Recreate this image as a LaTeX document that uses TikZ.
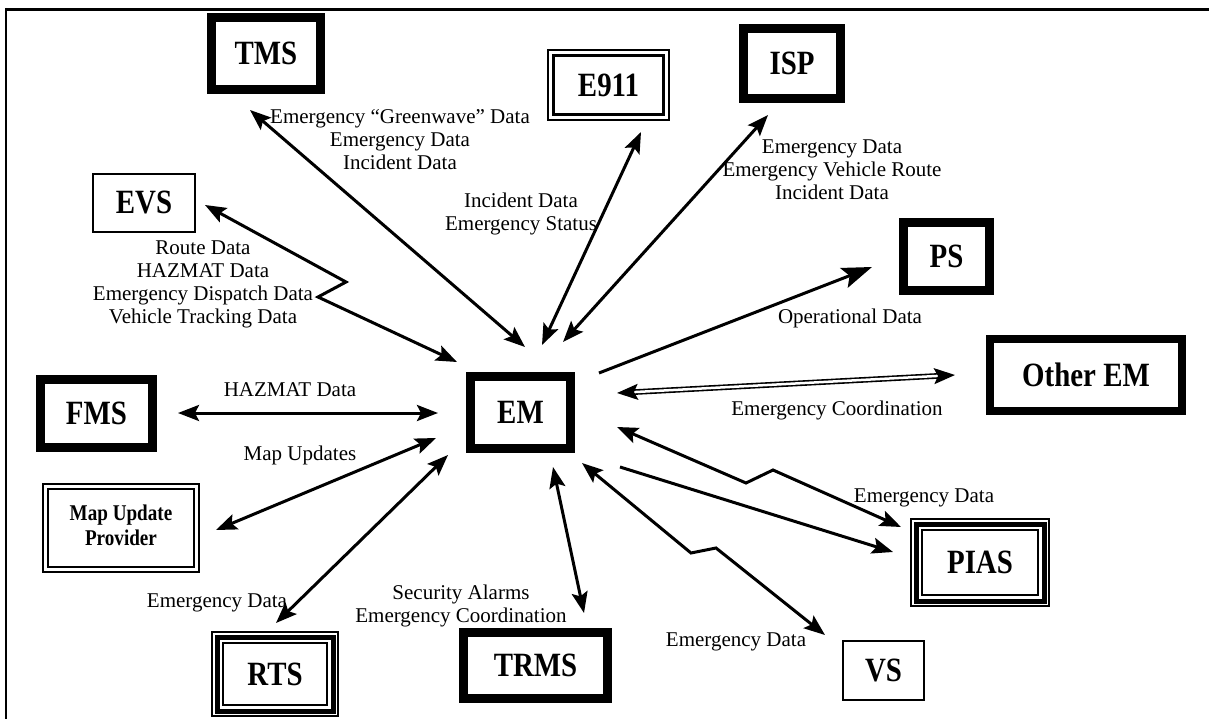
\documentclass[tikz,border=0pt]{standalone}
\usepackage{fontspec}
\setmainfont{Liberation Serif}
\usetikzlibrary{arrows.meta}

% frame ring drawn inside a node's outline: node, inset, line width
\newcommand\ringat[3]{%
  \draw[line width=#3pt]
    ([shift={({#2+#3/2},{#2+#3/2})}]#1.north west) rectangle
    ([shift={({-#2-#3/2},{-#2-#3/2})}]#1.south east);}

% condensed bold caption
\newcommand\narrow[1]{\scalebox{0.85}[1]{#1}}

% entity node from its outer corners: name, x1, y1, x2, y2, text
\newcommand\entity[6]{%
  \node[ent, minimum width={(#4-#2)*1pt}, minimum height={(#5-#3)*1pt}]
    (#1) at ({(#2+#4)/2},{(#3+#5)/2}) {\narrow{#6}};}

\tikzset{
  ent/.style={inner sep=0pt, outer sep=0pt, font=\fontsize{34}{36}\selectfont\bfseries},
  lbl/.style={inner sep=0pt, align=center, font=\fontsize{21}{23}\selectfont},
  flow/.style={line width=3pt},
}

\begin{document}
\begin{tikzpicture}[x=1pt, y=-1pt,
  >={Stealth[length=21pt, width=16pt, inset=4pt]}]
\useasboundingbox (0,0) rectangle (1209,719);

% page rules
\coordinate (ruleTL) at (6,9.5);
\coordinate (ruleTR) at (1209,9.5);
\coordinate (ruleBL) at (6,719);
\draw[line width=3pt] (ruleTL) -- (ruleTR);
\draw[line width=2pt] ([yshift=1.5pt]ruleTL) -- (ruleBL);

% entities
\entity{TMS}{207}{13}{325}{94}{TMS}
\entity{E911}{547}{49}{670}{121}{E911}
\entity{ISP}{739}{24}{845}{103}{ISP}
\entity{EVS}{92}{173}{196}{233}{EVS}
\entity{PS}{899}{218}{994}{295}{PS}
\entity{OEM}{986}{335}{1186}{415}{Other EM}
\entity{EM}{466}{372}{575}{453}{EM}
\entity{FMS}{36}{375}{157}{452}{FMS}
\entity{MUP}{42}{483}{200}{573}{\fontsize{22.5}{25}\selectfont\begin{tabular}{@{}c@{}}Map Update\\Provider\end{tabular}}
\entity{RTS}{211}{631}{339}{717}{RTS}
\entity{TRMS}{459}{628}{612}{703}{TRMS}
\entity{PIAS}{910}{518}{1050}{607}{PIAS}
\entity{VS}{842}{640}{925}{701}{VS}

% heavy single frames
\foreach \n in {TMS,ISP,PS,EM,FMS,TRMS} {\ringat{\n}{0}{9}}
\ringat{OEM}{0}{8}
% light single frames
\foreach \n in {EVS,VS} {\ringat{\n}{0}{2}}
% double frames
\ringat{E911}{0}{2}\ringat{E911}{5}{3}
\ringat{MUP}{0}{2}\ringat{MUP}{5}{2}
% triple frames
\foreach \n in {RTS,PIAS} {\ringat{\n}{0}{2}\ringat{\n}{3.5}{5}\ringat{\n}{11}{2}}

% connector ends
\coordinate (tmsEnd) at (250,110);   \coordinate (emTms) at (525,347);
\coordinate (e911End) at (641,132);  \coordinate (emE911) at (542,345);
\coordinate (ispEnd) at (768,115);   \coordinate (emIsp) at (563,342);
\coordinate (evsEnd) at (205,205);   \coordinate (emEvs) at (457,362);
\coordinate (evsZa) at (346,282);    \coordinate (evsZb) at (318,297);
\coordinate (fmsEnd) at (178,413);   \coordinate (emFms) at (438,413);
\coordinate (mupEnd) at (216,530);   \coordinate (emMup) at (436,438);
\coordinate (rtsEnd) at (276,623);   \coordinate (emRts) at (448,455);
\coordinate (trmsEnd) at (584,613);  \coordinate (emTrms) at (553,467);
\coordinate (vsEnd) at (825,635);    \coordinate (emVs) at (582,463);
\coordinate (vsZa) at (716,548);     \coordinate (vsZb) at (691,553);
\coordinate (piasEndA) at (901,527); \coordinate (emPiasA) at (617,427);
\coordinate (piasZa) at (773,470);   \coordinate (piasZb) at (746,483);
\coordinate (piasEndB) at (893,552); \coordinate (emPiasB) at (620,467);
\coordinate (psEnd) at (872,267);    \coordinate (emPs) at (599,373);
\coordinate (oemEnd) at (955,375);   \coordinate (emOem) at (617,393);

% connectors
\draw[flow,<->] (tmsEnd) -- (emTms);
\draw[flow,<->] (e911End) -- (emE911);
\draw[flow,<->] (ispEnd) -- (emIsp);
\draw[flow,<->] (evsEnd) -- (evsZa) -- (evsZb) -- (emEvs);
\draw[flow,<->] (fmsEnd) -- (emFms);
\draw[flow,<->] (mupEnd) -- (emMup);
\draw[flow,<->] (rtsEnd) -- (emRts);
\draw[flow,<->] (trmsEnd) -- (emTrms);
\draw[flow,<->] (vsEnd) -- (vsZa) -- (vsZb) -- (emVs);
\draw[flow,<->] (piasEndA) -- (piasZa) -- (piasZb) -- (emPiasA);
\draw[flow,->] (emPiasB) -- (piasEndB);
\draw[flow,-{Stealth[length=30pt, width=21pt, inset=6pt]}] (emPs) -- (psEnd);
\draw[line width=1.6pt, double, double distance=2.5pt, <->] (emOem) -- (oemEnd);

% flow labels
\node[lbl] (lTms) at (400,140) {Emergency “Greenwave” Data\\Emergency Data\\Incident Data};
\node[lbl] (lE911) at (521,214) {Incident Data\\Emergency Status};
\node[lbl] (lIsp) at (832,170) {Emergency Data\\Emergency Vehicle Route\\Incident Data};
\node[lbl] (lEvs) at (203,284) {Route Data\\HAZMAT Data\\Emergency Dispatch Data\\Vehicle Tracking Data};
\node[lbl] (lPs) at (850,318) {Operational Data};
\node[lbl] (lFms) at (290,390) {HAZMAT Data};
\node[lbl] (lOem) at (837,410) {Emergency Coordination};
\node[lbl] (lMup) at (300,455) {Map Updates};
\node[lbl] (lPias) at (924,498) {Emergency Data};
\node[lbl] (lTrms) at (461,606) {Security Alarms\\Emergency Coordination};
\node[lbl] (lRts) at (217,603) {Emergency Data};
\node[lbl] (lVs) at (736,642) {Emergency Data};
\end{tikzpicture}
\end{document}
